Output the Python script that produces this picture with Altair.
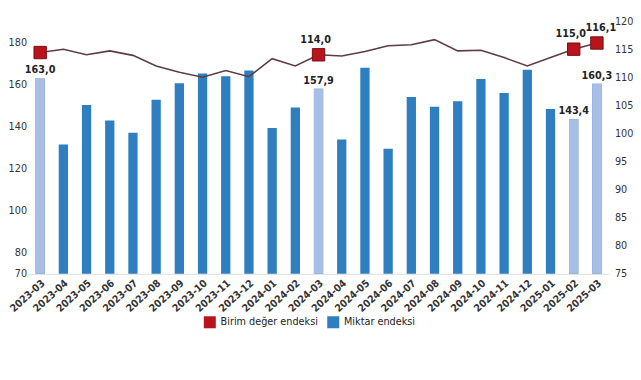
import altair as alt
import pandas as pd

months = ["2023-03", "2023-04", "2023-05", "2023-06", "2023-07", "2023-08", "2023-09",
          "2023-10", "2023-11", "2023-12", "2024-01", "2024-02", "2024-03", "2024-04",
          "2024-05", "2024-06", "2024-07", "2024-08", "2024-09", "2024-10", "2024-11",
          "2024-12", "2025-01", "2025-02", "2025-03"]
miktar = [163.0, 131.4, 150.2, 142.8, 137.0, 152.7, 160.5, 165.1, 163.8, 166.6, 139.2, 149.0,
          157.9, 133.8, 167.9, 129.4, 154.0, 149.3, 151.9, 162.5, 155.9, 166.9, 148.3, 143.4, 160.3]
birim = [114.4, 115.0, 114.0, 114.7, 113.9, 112.0, 110.9, 110.0, 111.2, 110.1, 113.3, 112.0,
         114.0, 113.8, 114.6, 115.6, 115.8, 116.7, 114.7, 114.8, 113.5, 112.0, 113.5, 115.0, 116.1]
highlight = ["2023-03", "2024-03", "2025-02", "2025-03"]
line_labelled_left = ["2024-03", "2025-02"]
line_labelled_right = ["2025-03"]
left_ticks = [70, 80, 100, 120, 140, 160, 180]
right_ticks = [75, 80, 85, 90, 95, 100, 105, 110, 115, 120]
series_names = ["Birim değer endeksi", "Miktar endeksi"]
series_colors = ["#B8141C", "#2F7EC0"]

def tr(v):
    return f"{v:.1f}".replace(".", ",")

df = pd.DataFrame({"month": months, "miktar": miktar, "birim": birim})
df["hl"] = df["month"].isin(highlight)
df["mlabel"] = [tr(v) for v in miktar]
df["blabel"] = [tr(v) for v in birim]
df["s_bar"] = series_names[1]
df["s_line"] = series_names[0]

FONT = "Liberation Sans Narrow, DejaVu Sans Condensed, Roboto Condensed, Roboto, sans-serif"

x = alt.X("month:N", sort=months,
          scale=alt.Scale(paddingInner=0.6, paddingOuter=0.3),
          axis=alt.Axis(title=None, labelAngle=-42, ticks=False, domainColor="#dddddd",
                        labelFontSize=10.5, labelColor="#333333", labelFontWeight="bold",
                        labelPadding=4, labelFont=FONT))

yl = alt.Y("miktar:Q", scale=alt.Scale(domain=[70, 190], nice=False, zero=False),
           axis=alt.Axis(title=None, values=left_ticks, ticks=False, domain=False, grid=False,
                         labelFontSize=11, labelColor="#333333", labelPadding=2,
                         labelFont=FONT))

base = alt.Chart(df)

bars = base.mark_bar().encode(
    x=x, y=yl, y2=alt.datum(70),
    color=alt.Color("s_bar:N", scale=alt.Scale(domain=series_names, range=series_colors),
                    legend=alt.Legend(title=None, orient="none", legendX=178, legendY=300,
                                      direction="horizontal", symbolType="square",
                                      symbolSize=150, labelFontSize=11, labelFont=FONT,
                                      labelColor="#222222", columnPadding=8)))
light = base.transform_filter(alt.datum.hl).mark_bar(color="#A9BEE6").encode(
    x=x, y=yl, y2=alt.datum(70))
bar_text = base.transform_filter(alt.datum.hl).mark_text(
    dy=-8, fontSize=11, fontWeight="bold", color="#222222", font=FONT).encode(
    x=x, y=yl, text="mlabel:N")

left = alt.layer(bars, light, bar_text)

yr = alt.Y("birim:Q", scale=alt.Scale(domain=[75, 120], nice=False, zero=False),
           axis=alt.Axis(title=None, orient="right", values=right_ticks, ticks=False,
                         domain=False, grid=False, labelFontSize=11, labelColor="#333333",
                         labelPadding=6, labelFont=FONT))

line = base.mark_line(color="#5E3C43", strokeWidth=1.6).encode(x=x, y=yr)
markers = base.transform_filter(alt.datum.hl).mark_point(
    shape="square", filled=True, size=160, opacity=1, stroke="#7A0A10", strokeWidth=1).encode(
    x=x, y=yr,
    color=alt.Color("s_line:N", scale=alt.Scale(domain=series_names, range=series_colors),
                    legend=None))
line_text_a = base.transform_filter(
    alt.FieldOneOfPredicate(field="month", oneOf=line_labelled_left)).mark_text(
    dy=-15, dx=-3, fontSize=11, fontWeight="bold", color="#222222", font=FONT).encode(
    x=x, y=yr, text="blabel:N")
line_text_b = base.transform_filter(
    alt.FieldOneOfPredicate(field="month", oneOf=line_labelled_right)).mark_text(
    dy=-15, dx=4, fontSize=11, fontWeight="bold", color="#222222", font=FONT).encode(
    x=x, y=yr, text="blabel:N")

right = alt.layer(line, markers, line_text_a, line_text_b)

chart = alt.layer(left, right).resolve_scale(y="independent").properties(
    width=592, height=258,
    padding={"left": 0, "top": 4, "right": 0, "bottom": 0},
).configure_view(stroke=None).configure_axis(grid=False)

chart.save("out.html", embed_options={"renderer": "svg", "actions": False})
